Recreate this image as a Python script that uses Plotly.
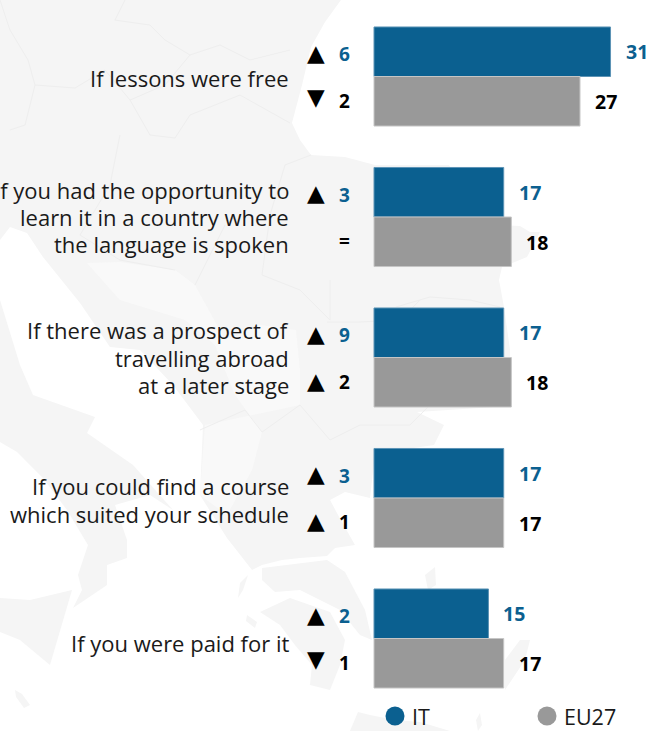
import plotly.graph_objects as go

W, H = 657, 731
labels = [
    ["If lessons were free"],
    ["If you had the opportunity to", "learn it in a country where", "the language is spoken"],
    ["If there was a prospect of", "travelling abroad", "at a later stage"],
    ["If you could find a course", "which suited your schedule"],
    ["If you were paid for it"],
]
it_values = [31, 17, 17, 17, 15]
eu_values = [27, 18, 18, 17, 17]
it_delta = ["6", "3", "9", "3", "2"]
eu_delta = ["2", "=", "2", "1", "1"]
it_dir = ["up", "up", "up", "up", "up"]
eu_dir = ["down", None, "up", "up", "down"]

BLUE = "#0b6090"
GREY = "#999999"
LAND = "#f5f5f5"
LAND2 = "#f9f9f9"
BORDER = "#eeeeee"

px_per_unit = 7.63
pitch = 140.5
x_range = [-374 / px_per_unit, (W - 374) / px_per_unit]
y_range = [(H - 76.5) / pitch, -76.5 / pitch]
groups = list(range(len(labels)))

def path(points, close=True):
    s = " ".join(("M" if i == 0 else "L") + f"{x/W:.4f},{1-y/H:.4f}" for i, (x, y) in enumerate(points))
    return s + (" Z" if close else "")

mainland = [(0,0),(341,0),(325,22),(311,47),(302,85),(292,123),(300,140),(311,155),(345,157),(375,165),(449,165),(462,185),(475,203),
 (490,225),(520,226),(530,232),(527,257),(502,267),(499,280),(504,307),(510,350),(510,406),(417,412),(444,425),(434,445),(400,450),(374,462),
 (370,498),(345,492),(330,500),(338,515),(355,545),(335,548),(327,556),(300,558),(282,560),(262,565),(252,570),(227,538),(200,495),(203,425),(173,385),(140,350),(110,347),(80,303),(43,257),(27,233),(10,227),(0,240)]
greece_central = [(262,568),(327,560),(345,572),(365,610),(372,640),(360,635),(340,610),(300,590),(275,592),(262,580)]
peloponnese = [(260,612),(290,598),(330,612),(345,640),(340,665),(330,690),(310,685),(312,665),(295,645),(280,625)]
italy = [(0,300),(20,365),(33,395),(95,417),(87,433),(133,465),(173,510),(150,495),(115,505),(127,540),(127,558),(107,565),(107,585),(73,608),(82,590),(78,575),(88,545),(67,510),(43,478),(17,452),(0,442)]
sicily = [(0,598),(30,600),(72,590),(50,665),(20,640),(0,632)]
islands = [
    [(15,690),(22,694),(30,705),(24,708),(16,697)],
    [(425,575),(435,567),(436,585),(428,590)],
    [(505,660),(520,640),(530,640),(525,660),(505,690)],
    [(480,713),(482,725),(478,731),(476,720)],
    [(350,731),(358,712),(370,715),(395,720),(420,722),(450,731)],
    [(527,232),(540,232),(527,257)],
    [(248,575),(243,590),(238,598),(240,583)],
    [(247,615),(257,622),(255,628),(246,621)],
]
inner = [(87,263),(120,262),(175,270),(195,285),(225,340),(260,325),(296,330),(300,370),(300,405),(205,425),(200,495),(227,515),(252,470),(262,432),(235,395),(215,345),(185,320),(120,300)]
border_lines = [
    [(0,0),(10,30),(28,60),(35,85),(25,125),(10,130)],
    [(125,0),(115,20),(150,25),(165,40),(190,55),(220,45),(250,60),(290,50)],
    [(190,55),(165,85),(130,100),(150,135),(175,138),(190,115),(240,95),(290,123)],
    [(35,85),(75,88),(105,70),(130,100)],
    [(120,135),(110,185),(80,235),(120,260),(175,270)],
    [(311,155),(285,165),(270,215),(262,275),(300,290),(330,320),(330,280)],
    [(225,225),(195,285)],
    [(396,307),(430,297),(470,300),(500,307)],
    [(327,322),(360,322),(400,320),(420,300)],
    [(200,430),(245,410),(262,432),(300,405),(330,440),(360,425),(410,425),(430,405)],
]

shapes = []
for poly in [mainland, greece_central, peloponnese, italy, sicily] + islands:
    shapes.append(dict(type="path", xref="paper", yref="paper", path=path(poly), fillcolor=LAND, line=dict(width=0), layer="below"))
shapes.append(dict(type="path", xref="paper", yref="paper", path=path(inner), fillcolor=LAND2, line=dict(width=0), layer="below"))
for ln in border_lines:
    shapes.append(dict(type="path", xref="paper", yref="paper", path=path(ln, close=False), line=dict(color=BORDER, width=1), layer="below"))

def disc(cx, cy, r, col):
    return dict(type="circle", xref="paper", yref="paper", x0=(cx-r)/W, x1=(cx+r)/W, y0=1-(cy+r)/H, y1=1-(cy-r)/H, fillcolor=col, line=dict(width=0))
shapes += [disc(395, 716, 9.5, BLUE), disc(547, 716, 9.5, GREY)]

fig = go.Figure()
fig.add_bar(y=groups, x=it_values, name="IT", orientation="h", marker=dict(color=BLUE, line=dict(color="#5c93b5", width=1)))
fig.add_bar(y=groups, x=eu_values, name="EU27", orientation="h", marker=dict(color=GREY, line=dict(color="#c6c6c6", width=1)))

ann = []
LABEL_FONT = dict(family="Open Sans", size=22, color="#1a1a1a")
NUM = "Open Sans"
LINE = 27.2
label_nudge = [-1.5, 0, 0, -2, -4.5]
glyph = {"up": "▲", "down": "▼"}
for g, lines in enumerate(labels):
    for k, line in enumerate(lines):
        offs = (len(lines) - 1) / 2 - k
        ann.append(dict(x=x_range[0], y=g, xref="x", yref="y", text=line, showarrow=False, xanchor="right", yanchor="middle",
                        xshift=291, yshift=offs * LINE + label_nudge[g], font=LABEL_FONT))
    ann.append(dict(x=it_values[g], y=g, yshift=25, xshift=13, xref="x", yref="y", text=f"<b>{it_values[g]}</b>", showarrow=False, xanchor="left", font=dict(family=NUM, size=19.5, color=BLUE)))
    ann.append(dict(x=eu_values[g], y=g, yshift=-25, xshift=13, xref="x", yref="y", text=f"<b>{eu_values[g]}</b>", showarrow=False, xanchor="left", font=dict(family=NUM, size=19.5, color="#000000")))
    ann.append(dict(x=0, y=g, yshift=22.5, xshift=-30, xref="x", yref="y", text=f"<b>{it_delta[g]}</b>", showarrow=False, font=dict(family=NUM, size=19, color=BLUE)))
    ann.append(dict(x=0, y=g, yshift=-24, xshift=-30, xref="x", yref="y", text=f"<b>{eu_delta[g]}</b>", showarrow=False, font=dict(family=NUM, size=19, color="#000000")))
    ann.append(dict(x=0, y=g, yshift=24, xshift=-58, xref="x", yref="y", text=glyph[it_dir[g]], showarrow=False, font=dict(family="DejaVu Sans", size=23, color="#000000")))
    if eu_dir[g]:
        ann.append(dict(x=0, y=g, yshift=-23 if eu_dir[g] == "up" else -20, xshift=-58, xref="x", yref="y", text=glyph[eu_dir[g]], showarrow=False, font=dict(family="DejaVu Sans", size=23, color="#000000")))

for name, px in (("IT", 410), ("EU27", 562)):
    ann.append(dict(x=px/W, y=1-716/H, xref="paper", yref="paper", text=name, showarrow=False, xanchor="left", yanchor="middle", font=dict(family="Open Sans", size=21.5, color="#1a1a1a")))

fig.update_layout(
    width=W, height=H, autosize=False, margin=dict(l=0, r=0, t=0, b=0),
    paper_bgcolor="white", plot_bgcolor="rgba(0,0,0,0)", showlegend=False,
    barmode="group", bargap=0.295, bargroupgap=0,
    xaxis=dict(range=x_range, visible=False, fixedrange=True),
    yaxis=dict(range=y_range, visible=False, fixedrange=True),
    shapes=shapes, annotations=ann,
)
fig.write_html("out.html", config=dict(displayModeBar=False),
               post_script="document.body.style.margin='0';document.body.style.overflow='hidden';")
